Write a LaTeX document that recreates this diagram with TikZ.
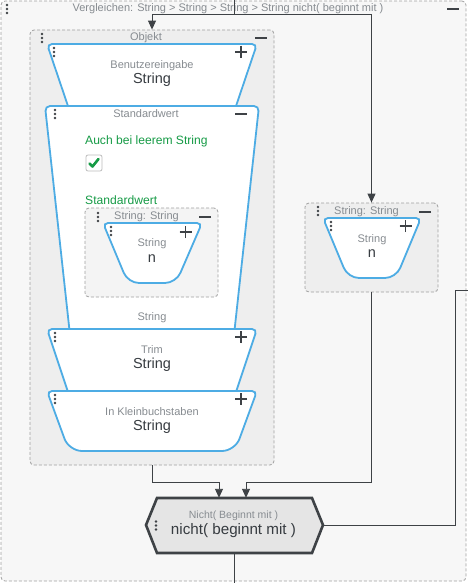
\documentclass[tikz,border=0pt]{standalone}
\usepackage{fontspec}
\setmainfont{Liberation Sans}
\usetikzlibrary{arrows.meta, positioning}
\definecolor{blockblue}{RGB}{77,172,228}
\definecolor{groupline}{RGB}{160,160,160}
\definecolor{outerbg}{RGB}{247,247,247}
\definecolor{innerbg}{RGB}{238,238,238}
\definecolor{boxbg}{RGB}{244,244,244}
\definecolor{hexbg}{RGB}{229,229,229}
\definecolor{wire}{RGB}{62,66,70}
\definecolor{captiongrey}{RGB}{135,140,145}
\definecolor{valuedark}{RGB}{55,60,65}
\definecolor{okgreen}{RGB}{22,155,70}
\tikzset{
  group/.style={draw=groupline, dash pattern=on 3pt off 2pt, rounded corners=4pt, line width=0.8pt},
  tbox/.style={draw=blockblue, line width=1.8pt, fill=white},
  conn/.style={draw=wire, line width=0.9pt},
  icon/.style={draw=wire, fill=wire, line width=1.6pt},
  caption/.style={text=captiongrey, inner sep=0pt, font=\fontsize{11}{12}\selectfont},
  value/.style={text=valuedark, inner sep=0pt, font=\fontsize{14.5}{16}\selectfont},
  label/.style={text=okgreen, inner sep=0pt, anchor=west, font=\fontsize{12.1}{13}\selectfont}
}
% trapezoid: top left x, top right x, top y, bottom left x, bottom right x, bottom y, bottom radius
\newcommand{\trap}[7]{\draw[tbox] ({(#1+#2)/2},#3) [rounded corners=5pt] -- (#2,#3) [rounded corners=#7] -- (#5,#6) -- (#4,#6) [rounded corners=5pt] -- (#1,#3) -- cycle;}
\newcommand{\menudots}[2]{\foreach \d in {-4,0,4} \fill[wire] (#1,#2+\d) circle (1.4pt);}
\newcommand{\plusicon}[2]{\draw[icon] (#1-6,#2) -- (#1+6,#2) (#1,#2-6) -- (#1,#2+6);}
\newcommand{\minusicon}[2]{\draw[icon] (#1-6,#2) -- (#1+6,#2);}

\begin{document}
\begin{tikzpicture}[x=1pt,y=-1pt,>={Triangle[length=9pt,width=8pt]}]
    \useasboundingbox (0,0) rectangle (468,583);
    % outer group
    \node [group, fill=outerbg, minimum width=465, minimum height=580] (compare) at (233.5,291) {};
    \node [caption] (comparetitle) at (228,9) {Vergleichen: String > String > String > String nicht( beginnt mit )};
    \menudots{7}{9}
    \minusicon{453}{9}
    \coordinate (entry) at (234,0);
    \coordinate (exit) at (234.5,583);
    \coordinate (loopback) at (468,290);

    % object group
    \node [group, fill=innerbg, minimum width=244, minimum height=435] (objekt) at (152,247.5) {};
    \node [caption] (objekttitle) at (146,38) {Objekt};
    \menudots{42}{38}
    \minusicon{261}{38}

    \trap{47}{257}{44}{70}{234}{112}{5pt}
    \node [caption] (input) at (152,65.5) {Benutzereingabe};
    \node [value] (inputval) at (152,80) {String};
    \menudots{54}{52}
    \plusicon{241}{52}

    \trap{45}{259}{106}{70}{234}{335}{5pt}
    \node [caption] (default) at (146,114) {Standardwert};
    \menudots{55}{114}
    \minusicon{241}{114}
    \node [label] (emptyflag) at (85,141.5) {Auch bei leerem String};
    \draw [draw=groupline!70, fill=white, rounded corners=2pt, line width=0.8pt] (86,155) rectangle (102,171);
    \draw [okgreen, line width=2.6pt, line cap=round, line join=round] (89.5,163.5) -- (92.5,166.5) -- (98.5,159);
    \node [label] (defaultlabel) at (85,200) {Standardwert};
    \node [group, fill=boxbg, minimum width=133, minimum height=89] (leftcast) at (151.5,252.5) {};
    \node [caption] (leftcasttitle) at (146.5,217) {String: String};
    \menudots{98}{217}
    \minusicon{205}{217}
    \trap{103}{202}{223}{128}{176}{283}{11pt}
    \node [caption] (leftstr) at (152,244) {String};
    \node [value] (leftn) at (152,258.5) {n};
    \menudots{111}{231}
    \plusicon{185.5}{232}
    \node [caption] (defaultout) at (152,317.5) {String};

    \trap{47}{257}{329}{70}{234}{398}{5pt}
    \node [caption] (trim) at (152,350) {Trim};
    \node [value] (trimval) at (152,365) {String};
    \menudots{55}{337}
    \plusicon{241}{337}

    \trap{47}{257}{391}{69}{235}{451}{13pt}
    \node [caption] (lower) at (152,412) {In Kleinbuchstaben};
    \node [value] (lowerval) at (152,427) {String};
    \menudots{55}{399}
    \plusicon{241}{399}

    % right cast
    \node [group, fill=innerbg, minimum width=133, minimum height=89] (rightcast) at (371.5,247.5) {};
    \node [caption] (rightcasttitle) at (366.5,211.5) {String: String};
    \menudots{318}{211}
    \minusicon{425}{212}
    \trap{323}{421}{218}{348}{396}{278}{11pt}
    \node [caption] (rightstr) at (372,239.5) {String};
    \node [value] (rightn) at (372,253.5) {n};
    \menudots{331}{226}
    \plusicon{405.5}{226}

    % negation block
    \draw [draw=wire, line width=2.6pt, fill=hexbg, line join=miter] (146,525) -- (157,498) -- (312,498) -- (323,525) -- (312,553) -- (157,553) -- cycle;
    \node [minimum width=177, minimum height=55] (nicht) at (234.5,525.5) {};
    \node [caption, font=\fontsize{10.5}{12}\selectfont] (nichttitle) at (233.5,516) {Nicht( Beginnt mit )};
    \node [value, font=\fontsize{15.2}{17}\selectfont] (nichtval) at (233.5,531) {nicht( beginnt mit )};
    \menudots{156}{525.5}

    % wires
    \draw [conn,->] (entry) -- (234,14) -| (objekt.north);
    \draw [conn,->] (234,14) -| (rightcast.north);
    \draw [conn,->] (objekt.south) -- ++(0,17) -| ([xshift=-15.5pt]nicht.north);
    \draw [conn,->] (rightcast.south) -- ++(0,190) -| ([xshift=11.5pt]nicht.north);
    \draw [conn] (nicht.east) -- (455,525.5) |- (loopback);
    \draw [conn] (nicht.south) -- (exit);
\end{tikzpicture}
\end{document}
